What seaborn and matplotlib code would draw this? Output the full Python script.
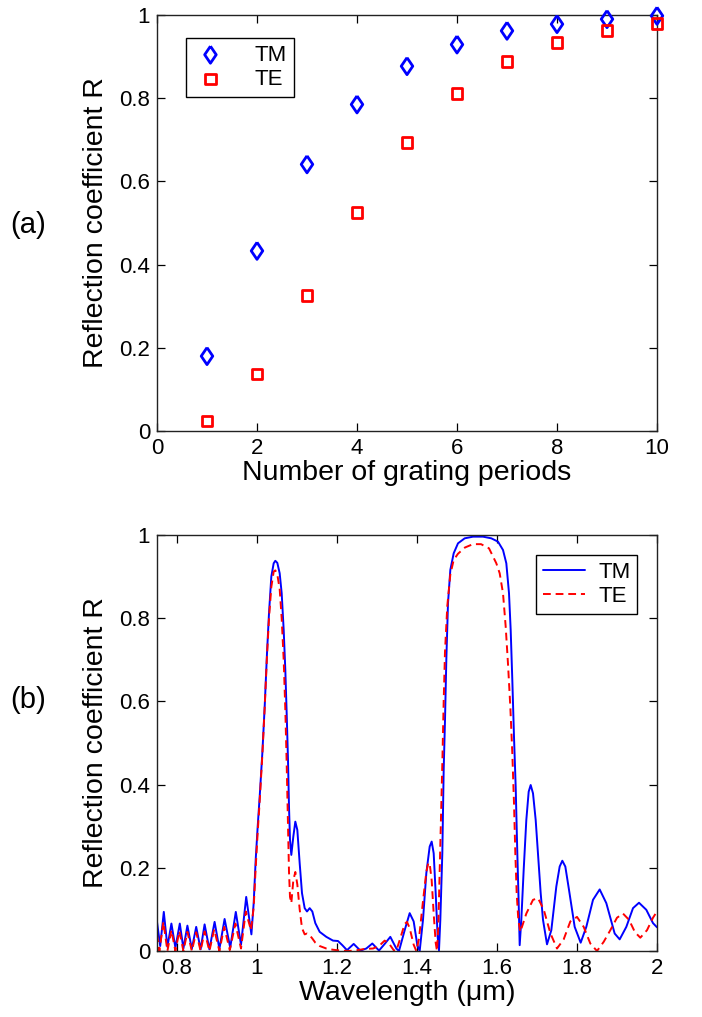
import numpy as np
import pandas as pd
import seaborn as sns
import matplotlib.pyplot as plt
from matplotlib.ticker import FuncFormatter

# (a) reflection vs number of grating periods
periods = [1, 2, 3, 4, 5, 6, 7, 8, 9, 10]
r_tm_periods = [0.180, 0.433, 0.641, 0.785, 0.877, 0.929, 0.962, 0.978, 0.990, 0.998]
r_te_periods = [0.024, 0.137, 0.325, 0.526, 0.694, 0.811, 0.888, 0.934, 0.962, 0.980]

# (b) reflection spectra
wl_tm = [0.750, 0.758, 0.767, 0.776, 0.786, 0.796, 0.807, 0.816, 0.826, 0.837,
         0.848, 0.859, 0.869, 0.881, 0.894, 0.906, 0.919, 0.933, 0.947, 0.960,
         0.973, 0.986, 0.9917, 0.9967, 1.0017, 1.0067, 1.0133, 1.0192, 1.025, 1.030,
         1.0358, 1.0417, 1.0458, 1.0508, 1.0567, 1.0617, 1.0667, 1.0708, 1.0742, 1.0775,
         1.080, 1.0825, 1.0858, 1.0908, 1.0958, 1.1008, 1.1067, 1.1125, 1.1192, 1.125,
         1.1317, 1.1383, 1.1458, 1.1567, 1.1733, 1.190, 1.2025, 1.2133, 1.225, 1.2417,
         1.2583, 1.2733, 1.2883, 1.305, 1.3192, 1.3333, 1.3483, 1.355, 1.3692, 1.3817,
         1.3917, 1.4008, 1.4067, 1.415, 1.4233, 1.4317, 1.4367, 1.4417, 1.4467, 1.4517,
         1.455, 1.4583, 1.4633, 1.4667, 1.470, 1.4733, 1.4775, 1.4833, 1.4917, 1.5025,
         1.5192, 1.540, 1.565, 1.5858, 1.6025, 1.615, 1.6233, 1.630, 1.6342, 1.6383,
         1.6425, 1.6467, 1.6508, 1.6542, 1.6567, 1.6608, 1.6667, 1.6733, 1.6792, 1.6842,
         1.690, 1.6967, 1.7025, 1.7092, 1.715, 1.725, 1.7358, 1.7483, 1.7567, 1.7633,
         1.7708, 1.780, 1.7942, 1.8092, 1.8233, 1.840, 1.8567, 1.8733, 1.8942, 1.9067,
         1.9233, 1.940, 1.955, 1.9733, 1.990, 2.000]
r_tm = [0.070, 0.012, 0.094, 0.010, 0.066, 0.008, 0.066, 0.006, 0.061, 0.005,
        0.058, 0.004, 0.064, 0.004, 0.070, 0.005, 0.077, 0.008, 0.094, 0.015,
        0.130, 0.040, 0.115, 0.219, 0.299, 0.371, 0.475, 0.587, 0.716, 0.812,
        0.900, 0.932, 0.938, 0.933, 0.908, 0.860, 0.772, 0.675, 0.571, 0.459,
        0.347, 0.267, 0.231, 0.275, 0.311, 0.291, 0.211, 0.139, 0.103, 0.095,
        0.103, 0.095, 0.067, 0.046, 0.034, 0.025, 0.024, 0.014, 0.002, 0.017,
        0.001, 0.006, 0.018, 0.001, 0.017, 0.034, 0.006, 0.000, 0.050, 0.091,
        0.071, 0.014, 0.000, 0.075, 0.187, 0.251, 0.263, 0.235, 0.139, 0.034,
        0.002, 0.075, 0.235, 0.435, 0.555, 0.700, 0.836, 0.916, 0.956, 0.980,
        0.992, 0.996, 0.996, 0.992, 0.984, 0.964, 0.932, 0.860, 0.772, 0.651,
        0.515, 0.395, 0.235, 0.115, 0.014, 0.075, 0.195, 0.315, 0.383, 0.399,
        0.379, 0.315, 0.235, 0.139, 0.075, 0.016, 0.050, 0.155, 0.203, 0.217,
        0.203, 0.147, 0.058, 0.020, 0.058, 0.123, 0.148, 0.115, 0.042, 0.028,
        0.058, 0.103, 0.116, 0.099, 0.067, 0.057]

wl_te = [0.750, 0.756, 0.766, 0.776, 0.786, 0.796, 0.806, 0.816, 0.826, 0.837,
         0.848, 0.859, 0.869, 0.881, 0.893, 0.906, 0.918, 0.932, 0.946, 0.960,
         0.972, 0.985, 0.9917, 0.9967, 1.0017, 1.0067, 1.0133, 1.0192, 1.025, 1.030,
         1.0358, 1.0417, 1.0458, 1.0508, 1.0567, 1.0617, 1.0667, 1.0708, 1.0742, 1.0775,
         1.080, 1.0825, 1.0858, 1.0908, 1.0958, 1.1008, 1.1067, 1.1125, 1.1192, 1.125,
         1.1317, 1.1383, 1.1458, 1.1567, 1.1733, 1.190, 1.210, 1.230, 1.250, 1.270,
         1.290, 1.305, 1.3192, 1.330, 1.3417, 1.348, 1.358, 1.3692, 1.375, 1.3817,
         1.3917, 1.3983, 1.405, 1.415, 1.4233, 1.4283, 1.4317, 1.4367, 1.4417, 1.4467,
         1.450, 1.4533, 1.4583, 1.4633, 1.4667, 1.470, 1.4758, 1.4833, 1.4917, 1.5025,
         1.520, 1.540, 1.560, 1.580, 1.5983, 1.6067, 1.615, 1.6217, 1.6275, 1.6333,
         1.6383, 1.6425, 1.6458, 1.6492, 1.6533, 1.6583, 1.6733, 1.690, 1.7025, 1.7167,
         1.7333, 1.750, 1.7667, 1.7833, 1.800, 1.8167, 1.8333, 1.850, 1.8667, 1.8833,
         1.900, 1.915, 1.930, 1.945, 1.9583, 1.975, 1.990, 2.000]
r_te = [0.040, 0.000, 0.070, 0.000, 0.050, 0.000, 0.048, 0.000, 0.046, 0.000,
        0.045, 0.000, 0.047, 0.000, 0.052, 0.000, 0.058, 0.002, 0.066, 0.006,
        0.095, 0.050, 0.105, 0.200, 0.285, 0.360, 0.470, 0.585, 0.710, 0.800,
        0.875, 0.912, 0.915, 0.905, 0.870, 0.800, 0.700, 0.580, 0.450, 0.300,
        0.190, 0.130, 0.115, 0.170, 0.190, 0.160, 0.100, 0.055, 0.040, 0.042,
        0.038, 0.030, 0.020, 0.012, 0.006, 0.003, 0.001, 0.000, 0.002, 0.005,
        0.006, 0.012, 0.025, 0.018, 0.002, 0.000, 0.030, 0.065, 0.070, 0.055,
        0.015, 0.000, 0.030, 0.120, 0.190, 0.212, 0.210, 0.170, 0.090, 0.020,
        0.000, 0.060, 0.250, 0.450, 0.600, 0.720, 0.830, 0.905, 0.940, 0.955,
        0.970, 0.978, 0.978, 0.968, 0.932, 0.908, 0.860, 0.780, 0.690, 0.587,
        0.475, 0.355, 0.235, 0.139, 0.075, 0.046, 0.090, 0.123, 0.127, 0.100,
        0.043, 0.006, 0.028, 0.071, 0.082, 0.058, 0.018, 0.000, 0.022, 0.050,
        0.080, 0.090, 0.075, 0.045, 0.032, 0.050, 0.080, 0.095]

sns.set_style("ticks")
plt.rcParams["font.family"] = ["Liberation Sans", "DejaVu Sans"]
plt.rcParams["text.color"] = "black"
plt.rcParams["axes.labelcolor"] = "black"

fig = plt.figure(figsize=(7.02, 10.17), dpi=100)
ax1 = fig.add_axes([157 / 702, 586 / 1017, 500 / 702, 416 / 1017])
ax2 = fig.add_axes([157 / 702, 66 / 1017, 500 / 702, 416 / 1017])

diamond = [(0, 1), (0.68, 0), (0, -1), (-0.68, 0), (0, 1)]
sns.scatterplot(x=periods, y=r_tm_periods, marker=diamond, s=150, facecolor="none",
                edgecolor="blue", linewidth=2.0, label="TM", clip_on=False,
                zorder=5, ax=ax1)
sns.scatterplot(x=periods, y=r_te_periods, marker="s", s=60, facecolor="none",
                edgecolor="red", linewidth=2.0, label="TE", clip_on=False,
                zorder=5, ax=ax1)

sns.lineplot(x=wl_tm, y=r_tm, color="blue", linewidth=1.4, estimator=None,
             sort=False, label="TM", ax=ax2)
sns.lineplot(x=wl_te, y=r_te, color="red", linewidth=1.4, estimator=None,
             sort=False, label="TE", ax=ax2)
ax2.lines[1].set_dashes((4, 2.5))

fmt = FuncFormatter(lambda v, p: f"{v:g}")
for ax in (ax1, ax2):
    ax.set_ylim(0, 1)
    ax.set_yticks(np.arange(0, 1.01, 0.2))
    ax.yaxis.set_major_formatter(fmt)
    ax.xaxis.set_major_formatter(fmt)
    ax.tick_params(direction="in", length=6, width=0.9, top=True, right=True,
                   labelsize=16, pad=5, color="black", labelcolor="black")
    for sp in ax.spines.values():
        sp.set_visible(True)
        sp.set_linewidth(1.0)
        sp.set_color("#222222")
    ax.set_ylabel("Reflection coefficient R", fontsize=20.5, labelpad=7)

ax1.set_xlim(0, 10)
ax1.set_xticks(range(0, 11, 2))
ax1.set_xlabel("Number of grating periods", fontsize=20.5, labelpad=1)
ax2.set_xlim(0.75, 2)
ax2.set_xticks([0.8, 1.0, 1.2, 1.4, 1.6, 1.8, 2.0])
ax2.set_xlabel("Wavelength (\u03bcm)", fontsize=20.5, labelpad=1)

leg1 = ax1.legend(loc="upper left", bbox_to_anchor=(0.058, 0.945), fontsize=16,
                  frameon=True, fancybox=False, edgecolor="black", framealpha=1,
                  handlelength=1.6, handletextpad=1.2, borderpad=0.3,
                  labelspacing=0.15, borderaxespad=0)
leg1.get_frame().set_linewidth(1.0)
leg2 = ax2.legend(loc="upper right", bbox_to_anchor=(0.96, 0.952), fontsize=16,
                  frameon=True, fancybox=False, edgecolor="black", framealpha=1,
                  handlelength=1.9, handletextpad=0.6, borderpad=0.3,
                  labelspacing=0.15, borderaxespad=0)
leg2.get_frame().set_linewidth(1.0)

fig.text(28 / 702, 1 - 225 / 1017, "(a)", ha="center", va="center", fontsize=21)
fig.text(28 / 702, 1 - 700 / 1017, "(b)", ha="center", va="center", fontsize=21)

fig.savefig("out.png", dpi=100)
